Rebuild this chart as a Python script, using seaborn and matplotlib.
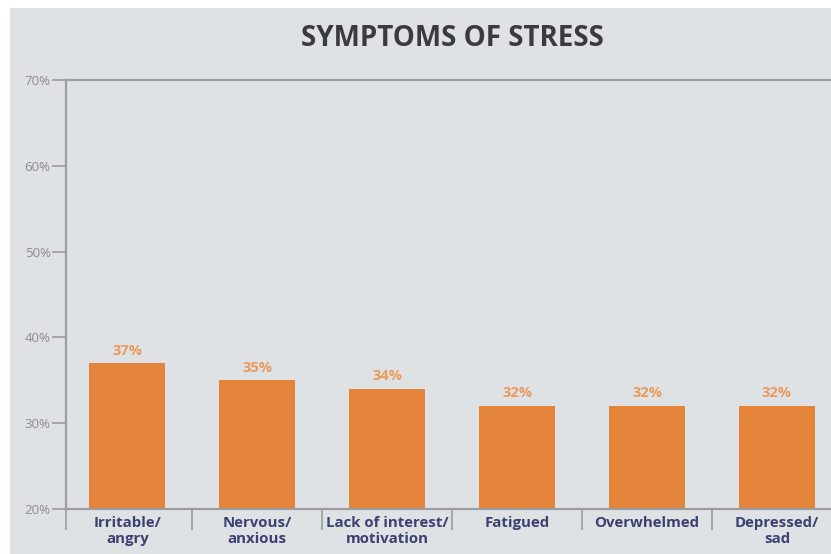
import matplotlib
matplotlib.use("Agg")
import matplotlib.pyplot as plt
import seaborn as sns
import pandas as pd
from matplotlib.patches import Rectangle

categories = ["Irritable/\nangry", "Nervous/\nanxious", "Lack of interest/\nmotivation",
              "Fatigued", "Overwhelmed", "Depressed/\nsad"]
values = [37, 35, 34, 32, 32, 32]
yticks = [20, 30, 40, 50, 60, 70]
ytick_labels = ["20%", "30%", "40%", "50%", "60%", "70%"]
title = "SYMPTOMS OF STRESS"

BG = "#dfe2e5"
BAR = "#e3843a"
AXC = "#9a9c9e"

sns.set_theme(style="white")
plt.rcParams["font.family"] = ["Open Sans", "DejaVu Sans"]

df = pd.DataFrame({"cat": categories, "val": values})

fig = plt.figure(figsize=(8.31, 5.54), dpi=100)
fig.patch.set_facecolor("white")
fig.patches.append(Rectangle((10 / 831, 0), 1, 1 - 8 / 554, transform=fig.transFigure,
                             facecolor=BG, edgecolor="none", zorder=-5))
ax = fig.add_axes([66 / 831, 1 - 509 / 554, 1 - 66 / 831, (509 - 80) / 554])
ax.set_facecolor("none")
ax.set_zorder(2)

sns.barplot(data=df, x="cat", y="val", color=BAR, saturation=1, width=0.585,
            linewidth=0, edgecolor="none", ax=ax)

xl = -0.473
ax.set_xlim(xl, 5.416)
ax.set_ylim(20, 70)
ax.set_yticks(yticks)
ax.set_yticklabels(ytick_labels, color="#8a8c8e", fontsize=9.5)
ax.tick_params(axis="y", direction="out", length=10, width=1.2, color=AXC, pad=1, left=True)

ax.set_xticks(range(len(categories)))
ax.set_xticklabels(categories, color="#3b4170", fontsize=10.8, fontweight="bold", linespacing=1.22)
ax.tick_params(axis="x", which="major", length=0, pad=5)
ax.set_xticks([xl, 0.5, 1.5, 2.5, 3.5, 4.5], minor=True)
ax.tick_params(axis="x", which="minor", direction="out", length=15, width=1.2, color=AXC, bottom=True)

for s in ["left", "bottom", "top"]:
    ax.spines[s].set_color(AXC)
    ax.spines[s].set_linewidth(1.6)
ax.spines["right"].set_visible(False)

ax.set_xlabel("")
ax.set_ylabel("")

for c in ax.containers:
    ax.bar_label(c, labels=[f"{v}%" for v in values], padding=4, color="#e99a5c",
                 fontsize=10.5, fontweight="bold")

fig.text(452 / 831, 1 - 39 / 554, title, ha="center", va="center", fontsize=20,
         fontweight="bold", color="#3a3b3e")

fig.savefig("out.png", dpi=100, facecolor=fig.get_facecolor())
